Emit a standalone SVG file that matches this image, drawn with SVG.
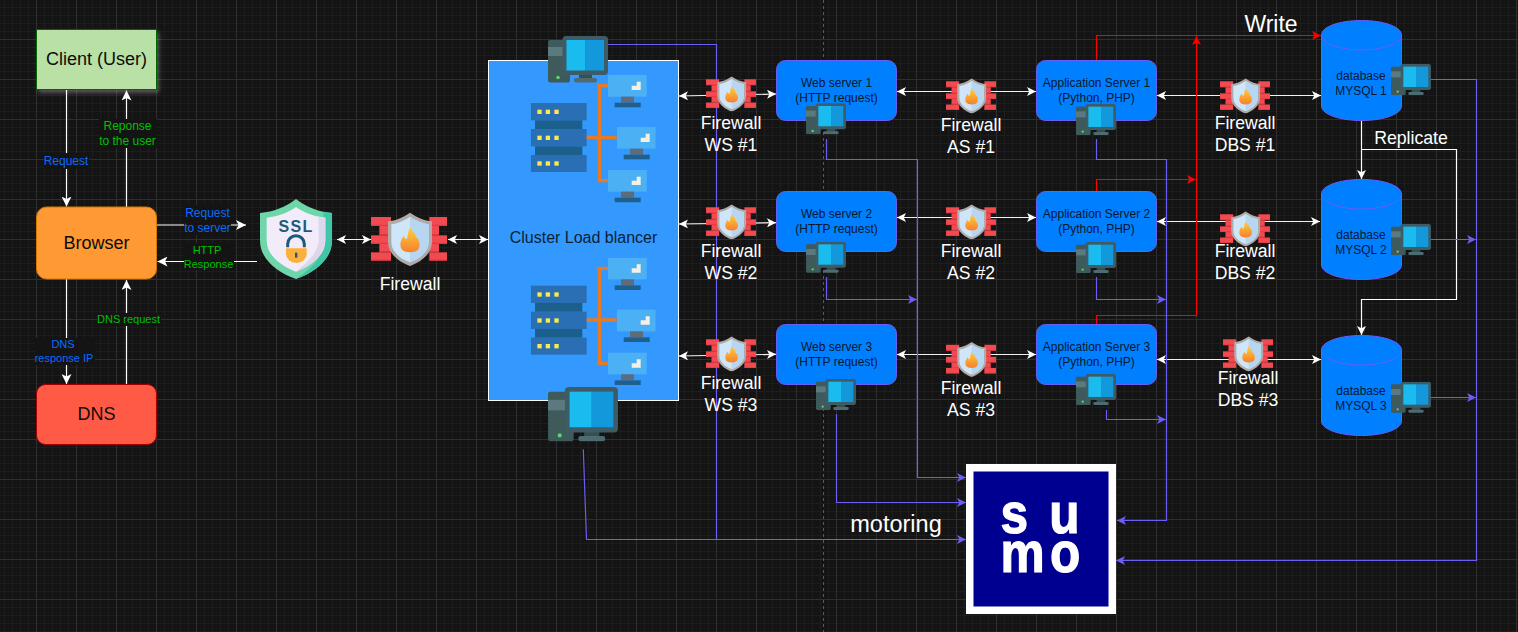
<svg xmlns="http://www.w3.org/2000/svg" width="1518" height="632" viewBox="0 0 1518 632">
<style>
text{font-family:"Liberation Sans",Arial,sans-serif}
.c{text-anchor:middle}
.w{fill:#fff;font-size:17.6px;text-anchor:middle}
.d{fill:#08182e;font-size:12px;text-anchor:middle}
.n{fill:#0c0c0c;font-size:18px;text-anchor:middle}
.b{fill:#0a6cff;font-size:12px;text-anchor:middle}
.g{fill:#00c000;font-size:12px;text-anchor:middle}
.s{font-size:11px}
.lb{fill:#141414}
.srv{fill:#007fff;stroke:#6a5ef5;stroke-width:1}
.ln{fill:none;stroke-width:1.2}
.wl{stroke:#fff;marker-end:url(#aw)}
.wd{stroke:#f2f2f2;marker-start:url(#aw8);marker-end:url(#aw8)}
.pl{stroke:#6a5ef5}
.pa{stroke:#6a5ef5;marker-end:url(#ap)}
.ra{stroke:#f00;marker-end:url(#ar)}
.sumo{fill:#fff;stroke:#fff;stroke-width:1.2px;font-size:57px;font-weight:700}
</style>
<defs>
<pattern id="grid" patternUnits="userSpaceOnUse" x="-4" y="-1" width="40" height="40">
<path d="M8.5 0V40M16.5 0V40M24.5 0V40M32.5 0V40M0 8.5H40M0 16.5H40M0 24.5H40M0 32.5H40" stroke="#1d1d1d" stroke-width="1" fill="none"/>
<path d="M.5 0V40M0 .5H40" stroke="#2f2f2f" stroke-width="1" fill="none"/>
</pattern>
<marker id="aw" viewBox="0 0 10 10" refX="10" refY="5" markerUnits="userSpaceOnUse" markerWidth="10" markerHeight="10" orient="auto-start-reverse"><path d="M0 0L10 5L0 10L2.5 5Z" fill="#fff"/></marker>
<marker id="aw8" viewBox="0 0 10 10" refX="10" refY="5" markerUnits="userSpaceOnUse" markerWidth="9" markerHeight="9" orient="auto-start-reverse"><path d="M0 0L10 5L0 10L2.5 5Z" fill="#fff"/></marker>
<marker id="ap" viewBox="0 0 10 10" refX="10" refY="5" markerUnits="userSpaceOnUse" markerWidth="9" markerHeight="9" orient="auto-start-reverse"><path d="M0 0L10 5L0 10L2.5 5Z" fill="#6a5ef5"/></marker>
<marker id="ar" viewBox="0 0 10 10" refX="10" refY="5" markerUnits="userSpaceOnUse" markerWidth="9" markerHeight="9" orient="auto-start-reverse"><path d="M0 0L10 5L0 10L2.5 5Z" fill="#f00"/></marker>
<filter id="glow" x="-20%" y="-20%" width="140%" height="140%"><feDropShadow dx="2" dy="3" stdDeviation="2" flood-color="#fff" flood-opacity=".28"/></filter>
<linearGradient id="fl" x1="0" y1="0" x2="0" y2="1"><stop offset="0" stop-color="#ffd23f"/><stop offset="1" stop-color="#f6802b"/></linearGradient>
<symbol id="pc" viewBox="0 0 120 94">
<rect x="0" y="8" width="44" height="85" rx="4" fill="#3f5a5a"/>
<rect x="0" y="22" width="30" height="18" fill="#5a7a80"/>
<circle cx="20" cy="83" r="3.5" fill="#5fd36f"/>
<rect x="62" y="76" width="26" height="12" fill="#35504f"/>
<rect x="52" y="84" width="46" height="9" rx="4" fill="#4d6b73"/>
<rect x="29" y="0" width="91" height="78" rx="7" fill="#3d5c66"/>
<rect x="37" y="8" width="38" height="61" fill="#1abcf0"/>
<rect x="75" y="8" width="37" height="61" fill="#1398dc"/>
</symbol>
<symbol id="fw" viewBox="0 0 228 162">
<g fill="#f24a50">
<rect x="0" y="15" width="60" height="27"/><rect x="25" y="42" width="35" height="28"/><rect x="0" y="70" width="60" height="26"/><rect x="25" y="96" width="35" height="25"/><rect x="0" y="121" width="60" height="25"/>
<rect x="175" y="15" width="53" height="27"/><rect x="175" y="42" width="29" height="28"/><rect x="175" y="70" width="53" height="26"/><rect x="175" y="96" width="29" height="25"/><rect x="175" y="121" width="53" height="25"/>
</g>
<path d="M0 40H60M25 68H60M0 94H60M25 119H60M0 144H60M175 40H228M175 68H204M175 94H228M175 119H204M175 144H228" stroke="#d93a42" stroke-width="3" fill="none"/>
<path d="M117 2C140 18 160 25 183 28V90C183 125 150 150 117 162C84 150 51 125 51 90V28C74 25 94 18 117 2Z" fill="#b0aba8"/>
<path d="M117 14C138 28 155 34 173 37V90C173 120 145 141 117 151C89 141 61 120 61 90V37C79 34 96 28 117 14Z" fill="#cfe6fa"/>
<path d="M117 14C138 28 155 34 173 37V90C173 120 145 141 117 151Z" fill="#b7d6f2"/>
<path d="M117 44C122 60 133 58 134 74C146 84 149 100 142 112C135 124 99 124 92 112C84 98 90 80 99 72C101 78 104 82 107 82C112 70 110 58 117 44Z" fill="url(#fl)"/>
</symbol>
<symbol id="ssl" viewBox="0 0 216 240">
<path d="M108 0C140 25 175 38 216 42V125C216 180 165 220 108 240C51 220 0 180 0 125V42C41 38 76 25 108 0Z" fill="#6ed6a9"/>
<path d="M190 39L216 42V125C216 180 165 220 108 240C150 210 190 180 190 125Z" fill="#3fc5a8"/>
<path d="M108 24C135 42 160 52 196 56V125C196 170 150 202 108 218C66 202 20 170 20 125V56C56 52 81 42 108 24Z" fill="#f2ebfa"/>
<path d="M196 56V125C196 170 150 202 108 218C140 190 176 165 176 120V54Z" fill="#dcd7ea"/>
<text x="108" y="98" text-anchor="middle" font-size="48" font-weight="700" letter-spacing="4" fill="#1b5b79">SSL</text>
<path d="M83 145V135A25 25 0 0 1 133 135V145" fill="none" stroke="#1b5b79" stroke-width="9"/>
<path d="M78 148H140V165A31 27 0 0 1 78 165Z" fill="#fbb03b"/>
<rect x="105" y="161" width="7" height="15" fill="#1b5b79"/>
</symbol>
<symbol id="net" viewBox="0 0 375 383">
<g fill="#2a6fb3"><rect x="0" y="84" width="168" height="52"/><rect x="0" y="162" width="168" height="52"/><rect x="0" y="240" width="168" height="51"/></g>
<g fill="#1b5f8c"><rect x="13" y="136" width="142" height="26"/><rect x="13" y="214" width="142" height="26"/></g>
<g fill="#fcea4d"><rect x="20" y="104" width="13" height="13"/><rect x="45" y="104" width="13" height="13"/><rect x="71" y="104" width="13" height="13"/><rect x="20" y="182" width="13" height="13"/><rect x="45" y="182" width="13" height="13"/><rect x="71" y="182" width="13" height="13"/><rect x="20" y="259" width="13" height="13"/><rect x="45" y="259" width="13" height="13"/><rect x="71" y="259" width="13" height="13"/></g>
<path d="M232 32H206V317H232M168 187H258" fill="none" stroke="#e97a25" stroke-width="10"/>
<g><rect x="232" y="0" width="116" height="65" fill="#4cb0f5"/><rect x="271" y="65" width="39" height="18" fill="#5e6b78"/><rect x="252" y="83" width="78" height="14" fill="#1f5f8c"/><path d="M330 20H318V32H303V45H330Z" fill="#f3f1e6"/></g>
<g transform="translate(27 156)"><rect x="232" y="0" width="116" height="65" fill="#4cb0f5"/><rect x="271" y="65" width="39" height="18" fill="#5e6b78"/><rect x="252" y="83" width="78" height="14" fill="#1f5f8c"/><path d="M330 20H318V32H303V45H330Z" fill="#f3f1e6"/></g>
<g transform="translate(0 285)"><rect x="232" y="0" width="116" height="65" fill="#4cb0f5"/><rect x="271" y="65" width="39" height="18" fill="#5e6b78"/><rect x="252" y="83" width="78" height="14" fill="#1f5f8c"/><path d="M330 20H318V32H303V45H330Z" fill="#f3f1e6"/></g>
</symbol>
</defs>

<rect width="1518" height="632" fill="#141414"/>
<rect width="1518" height="632" fill="url(#grid)"/>
<path d="M823.5 0V632" stroke="#5a5a5a" stroke-dasharray="3 3" fill="none"/>

<g id="connectors">
<path class="ln wl" d="M66.500 89.500V206.500"/>
<path class="ln wl" d="M126.500 207V90.500"/>
<path class="ln wl" d="M66.500 279V384"/>
<path class="ln wl" d="M126.500 384.500V280"/>
<path class="ln wl" d="M157 225H246"/>
<path class="ln wl" d="M257 261.500H157.500"/>
<path class="ln wd" d="M337 239.500H371"/>
<path class="ln wd" d="M448 239.500H488"/>
<path class="ln wd" d="M679 96L776 94"/>
<path class="ln wd" d="M679 224L776 222.700"/>
<path class="ln wd" d="M679 356L776 354.300"/>
<path class="ln wd" d="M897 91.500H1036"/>
<path class="ln wd" d="M897 217.500H1036"/>
<path class="ln wd" d="M897 354.500H1036"/>
<path class="ln wd" d="M1157 95.500H1321"/>
<path class="ln wd" d="M1157 221.500H1320"/>
<path class="ln wd" d="M1157 359.500H1321"/>
<path class="ln wl" style="marker-end:url(#aw8)" d="M1361.500 120.500V179"/>
<path class="ln wl" style="marker-end:url(#aw8)" d="M1361.500 149.500H1456.500V299.500H1361.500V335"/>
<path class="ln ra" d="M1096.500 60V35.500H1321"/>
<path class="ln ra" d="M1096.500 191V179.500H1196"/>
<path class="ln ra" d="M1096.500 324V315.500H1196.500V36"/>
<path class="ln pl" d="M608 44.500H716.500V539"/>
<path class="ln pa" d="M583.300 449.300L586.500 539.500H966"/>
<path class="ln pa" d="M826.500 139V159.500H917.500V477.500H966"/>
<path class="ln pa" d="M826.500 277V299.500H917"/>
<path class="ln pa" d="M836.500 414V502.500H966"/>
<path class="ln pa" d="M1096.500 139V159.500H1166.500V520.500H1117"/>
<path class="ln pa" d="M1096.500 277V299.500H1166"/>
<path class="ln pa" d="M1106.500 410V419.500H1166"/>
<path class="ln pa" d="M1431 79.500H1476.500V560.500H1116"/>
<path class="ln pa" d="M1431 239.500H1476"/>
<path class="ln pa" d="M1431 397.500H1476"/>
</g>

<g id="edge-labels">
<rect class="lb" x="44" y="153" width="45" height="16"/><text class="b" x="66" y="165">Request</text>
<rect class="lb" x="99" y="119" width="58" height="29"/><text class="g" x="127.500" y="130">Reponse</text><text class="g" x="127.500" y="145">to the user</text>
<rect class="lb" x="35" y="338" width="60" height="27"/><text class="b s" x="63" y="348">DNS</text><text class="b s" x="64" y="362">response IP</text>
<rect class="lb" x="97" y="313" width="64" height="13"/><text class="g s" x="128.500" y="323">DNS request</text>
<rect class="lb" x="184" y="205" width="47" height="30"/><text class="b" x="207.500" y="217">Request</text><text class="b" x="207.500" y="232">to server</text>
<rect class="lb" x="184" y="243" width="50" height="27"/><text class="g s" x="207" y="254">HTTP</text><text class="g s" x="208.500" y="268">Response</text>
<text x="1271" y="31.700" fill="#fff" font-size="23px" class="c">Write</text>
<text x="1411" y="144" fill="#fff" font-size="17.700px" class="c">Replicate</text>
<text x="896" y="531.700" fill="#fff" font-size="23.500px" class="c">motoring</text>
</g>

<g id="client"><rect x="36.500" y="29.500" width="120" height="60" fill="#b9e0a5" stroke="#006600" filter="url(#glow)"/><text class="n" x="96.500" y="65">Client (User)</text></g>
<g id="browser"><rect x="36.500" y="207" width="120" height="72" rx="10" fill="#ff9933" stroke="#d07800"/><text class="n" x="96.500" y="249">Browser</text></g>
<g id="dns"><rect x="36.500" y="384.500" width="120" height="60" rx="9" fill="#ff5a45" stroke="#a00000"/><text class="n" x="96.500" y="420">DNS</text></g>
<g id="ssl-cert"><use href="#ssl" x="260" y="199" width="72" height="80"/></g>
<g id="firewall-main"><use href="#fw" x="371" y="212" width="76" height="54"/><text class="w" x="410" y="290">Firewall</text></g>

<g id="load-balancer">
<rect x="488.500" y="60.500" width="190" height="340" fill="#3399ff" stroke="#fff"/>
<use href="#net" x="530.700" y="75" width="125" height="127.670"/>
<use href="#net" x="530.700" y="257.670" width="125" height="127.670"/>
<text x="583.500" y="243" font-size="16px" class="c" fill="#0b1f33">Cluster Load blancer</text>
<use href="#pc" x="548" y="36" width="60" height="47"/>
<use href="#pc" x="548" y="387" width="70" height="54.800"/>
</g>

<g id="fw-ws1"><use href="#fw" x="706" y="76" width="50" height="35.500"/><text class="w" x="731" y="129">Firewall</text><text class="w" x="731" y="151">WS #1</text></g>
<g id="fw-ws2"><use href="#fw" x="706" y="204" width="50" height="35.500"/><text class="w" x="731" y="257">Firewall</text><text class="w" x="731" y="279">WS #2</text></g>
<g id="fw-ws3"><use href="#fw" x="706" y="336" width="50" height="35.500"/><text class="w" x="731" y="389">Firewall</text><text class="w" x="731" y="411">WS #3</text></g>

<g id="web1"><rect class="srv" x="776.500" y="60.500" width="120" height="60" rx="9"/><text class="d" x="836.500" y="87">Web server 1</text><text class="d" x="836.500" y="102">(HTTP request)</text><use href="#pc" x="806" y="103.300" width="40" height="31.300"/></g>
<g id="web2"><rect class="srv" x="776.500" y="191.500" width="120" height="60" rx="9"/><text class="d" x="836.500" y="218">Web server 2</text><text class="d" x="836.500" y="233">(HTTP request)</text><use href="#pc" x="806" y="241.700" width="40" height="31.300"/></g>
<g id="web3"><rect class="srv" x="776.500" y="324.500" width="120" height="60" rx="9"/><text class="d" x="836.500" y="351">Web server 3</text><text class="d" x="836.500" y="366">(HTTP request)</text><use href="#pc" x="816" y="379" width="40" height="31.300"/></g>

<g id="fw-as1"><use href="#fw" x="946" y="78" width="50" height="35.500"/><text class="w" x="971" y="131">Firewall</text><text class="w" x="971" y="153">AS #1</text></g>
<g id="fw-as2"><use href="#fw" x="946" y="204" width="50" height="35.500"/><text class="w" x="971" y="257">Firewall</text><text class="w" x="971" y="279">AS #2</text></g>
<g id="fw-as3"><use href="#fw" x="946" y="341.500" width="50" height="35.500"/><text class="w" x="971" y="394">Firewall</text><text class="w" x="971" y="416">AS #3</text></g>

<g id="app1"><rect class="srv" x="1036.500" y="60.500" width="120" height="60" rx="9"/><text class="d" x="1096.500" y="87">Application Server 1</text><text class="d" x="1096.500" y="102">(Python, PHP)</text><use href="#pc" x="1076" y="104" width="40" height="31.300"/></g>
<g id="app2"><rect class="srv" x="1036.500" y="191.500" width="120" height="60" rx="9"/><text class="d" x="1096.500" y="218">Application Server 2</text><text class="d" x="1096.500" y="233">(Python, PHP)</text><use href="#pc" x="1076" y="242" width="40" height="31.300"/></g>
<g id="app3"><rect class="srv" x="1036.500" y="324.500" width="120" height="60" rx="9"/><text class="d" x="1096.500" y="351">Application Server 3</text><text class="d" x="1096.500" y="366">(Python, PHP)</text><use href="#pc" x="1076" y="374" width="40" height="31.300"/></g>

<g id="fw-dbs1"><use href="#fw" x="1220" y="78" width="50" height="35.500"/><text class="w" x="1245" y="129">Firewall</text><text class="w" x="1245" y="151">DBS #1</text></g>
<g id="fw-dbs2"><use href="#fw" x="1220" y="211" width="50" height="35.500"/><text class="w" x="1245" y="257">Firewall</text><text class="w" x="1245" y="279">DBS #2</text></g>
<g id="fw-dbs3"><use href="#fw" x="1223" y="336" width="50" height="35.500"/><text class="w" x="1248" y="384">Firewall</text><text class="w" x="1248" y="406">DBS #3</text></g>

<g id="db1"><path class="srv" d="M1321.500 35C1321.500 26.700 1339.400 20.500 1361.500 20.500S1401.500 26.700 1401.500 35V106C1401.500 114.300 1383.600 120.500 1361.500 120.500S1321.500 114.300 1321.500 106Z"/><path d="M1321.500 35C1321.500 43.300 1339.400 50 1361.500 50S1401.500 43.300 1401.500 35" fill="none" stroke="#6a5ef5"/><text class="d" x="1361" y="80">database</text><text class="d" x="1361" y="95">MYSQL 1</text><use href="#pc" x="1391" y="64" width="40" height="31.300"/></g>
<g id="db2"><path class="srv" d="M1321.500 194C1321.500 185.700 1339.400 179.500 1361.500 179.500S1401.500 185.700 1401.500 194V265C1401.500 273.300 1383.600 279.500 1361.500 279.500S1321.500 273.300 1321.500 265Z"/><path d="M1321.500 194C1321.500 202.300 1339.400 209 1361.500 209S1401.500 202.300 1401.500 194" fill="none" stroke="#6a5ef5"/><text class="d" x="1361" y="239">database</text><text class="d" x="1361" y="254">MYSQL 2</text><use href="#pc" x="1391" y="224" width="40" height="31.300"/></g>
<g id="db3"><path class="srv" d="M1321.500 350C1321.500 341.700 1339.400 335.500 1361.500 335.500S1401.500 341.700 1401.500 350V421C1401.500 429.300 1383.600 435.500 1361.500 435.500S1321.500 429.300 1321.500 421Z"/><path d="M1321.500 350C1321.500 358.300 1339.400 365 1361.500 365S1401.500 358.300 1401.500 350" fill="none" stroke="#6a5ef5"/><text class="d" x="1361" y="395">database</text><text class="d" x="1361" y="410">MYSQL 3</text><use href="#pc" x="1391" y="381.700" width="40" height="31.300"/></g>

<g id="sumo">
<rect x="966" y="464" width="150" height="150" fill="#fff"/>
<rect x="973.500" y="471.500" width="135" height="135" fill="#000090"/>
<text class="sumo" transform="translate(1000.500 0) scale(.87 1)"><tspan x="0 33 56" y="533">s u</tspan><tspan x="0 57" y="572.500">mo</tspan></text>
</g>
</svg>
